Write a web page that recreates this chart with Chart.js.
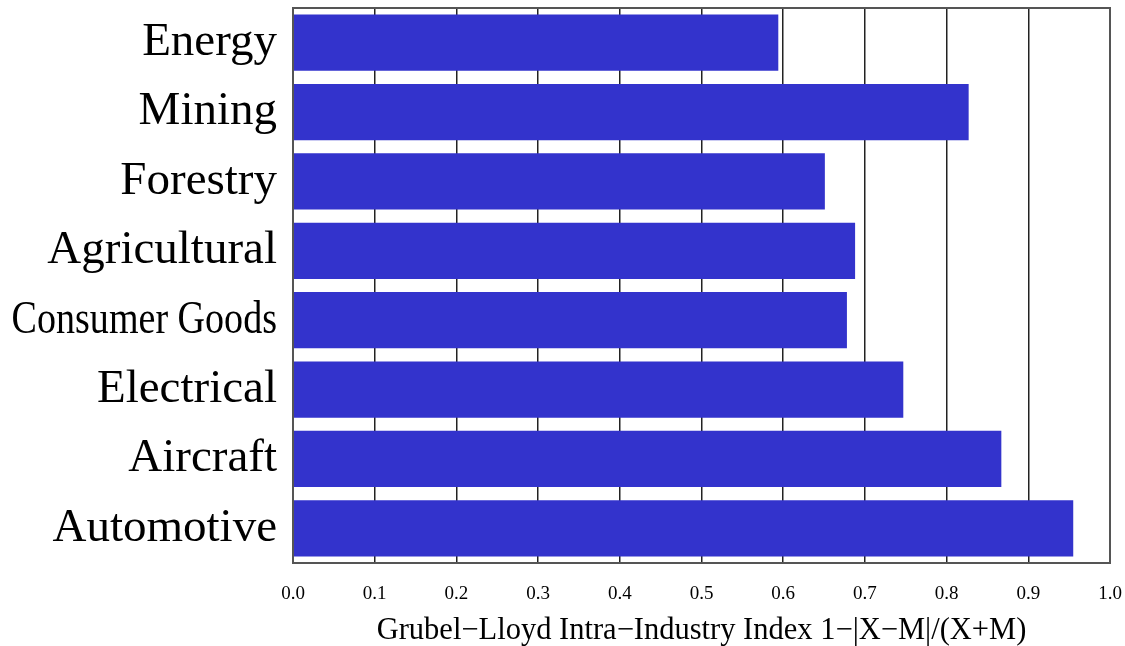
<!DOCTYPE html>
<html>
<head>
<meta charset="utf-8">
<script src="https://cdn.jsdelivr.net/npm/chart.js@4"></script>
<style>
  body { margin: 0; background: #fff; }
  #wrap { width: 1125px; height: 646px; }
</style>
</head>
<body>
<div id="wrap"><canvas id="glChart" width="1125" height="646"></canvas></div>
<script>
// sectors, top to bottom
var sectors = ['Energy', 'Mining', 'Forestry', 'Agricultural', 'Consumer Goods', 'Electrical', 'Aircraft', 'Automotive'];
// Grubel-Lloyd index per sector
var glIndex = [0.594, 0.827, 0.651, 0.688, 0.678, 0.747, 0.867, 0.955];
var xTicks = [0, 0.1, 0.2, 0.3, 0.4, 0.5, 0.6, 0.7, 0.8, 0.9, 1.0];

var serif = '"Liberation Serif", "Times New Roman", serif';
var narrowLabel = 4;   // 'Consumer Goods' is set condensed in the original

// full box round the plot + the condensed label
var frame = {
    id: 'frame',
    afterDraw: function (chart) {
        var a = chart.chartArea, c = chart.ctx;
        c.save();
        c.strokeStyle = '#555';
        c.lineWidth = 2;
        c.strokeRect(a.left, a.top, a.right - a.left, a.bottom - a.top);

        var y = chart.scales.y;
        var py = y.getPixelForValue(narrowLabel);
        c.font = '47px ' + serif;
        c.fillStyle = '#000';
        c.textAlign = 'right';
        c.textBaseline = 'middle';
        c.translate(y.right - 16, py);
        c.scale(0.81, 1);
        c.fillText(sectors[narrowLabel], 0, 0);
        c.restore();
    }
};

var ctx = document.getElementById('glChart').getContext('2d');
var glChart = new Chart(ctx, {
    type: 'bar',
    data: {
        labels: sectors,
        datasets: [{
            data: glIndex,
            backgroundColor: '#3333CC',
            borderWidth: 0,
            barPercentage: 0.81,
            categoryPercentage: 1.0
        }]
    },
    options: {
        indexAxis: 'y',
        responsive: false,
        animation: false,
        layout: { padding: { top: 8, right: 15, left: 0, bottom: 0 } },
        plugins: { legend: { display: false }, tooltip: { enabled: false } },
        scales: {
            x: {
                min: 0,
                max: 1,
                afterBuildTicks: function (scale) {
                    scale.ticks = xTicks.map(function (v) { return { value: v }; });
                },
                afterFit: function (scale) {
                    scale.height = 83;
                    scale.paddingLeft = 0;
                    scale.paddingRight = 0;
                },
                grid: { color: '#222', lineWidth: 1.5, drawTicks: false },
                border: { display: false },
                ticks: {
                    padding: 20,
                    color: '#000',
                    font: { family: serif, size: 19 },
                    callback: function (v) { return Number(v).toFixed(1); }
                },
                title: {
                    display: true,
                    text: 'Grubel\u2212Lloyd Intra\u2212Industry Index 1\u2212|X\u2212M|/(X+M)',
                    color: '#000',
                    font: { family: serif, size: 30.5, lineHeight: 1 },
                    padding: { top: 0, bottom: 0 }
                }
            },
            y: {
                afterFit: function (scale) {
                    scale.width = 293;
                    scale.paddingTop = 0;
                    scale.paddingBottom = 0;
                },
                grid: { display: false, drawTicks: false },
                border: { display: false },
                ticks: {
                    padding: 16,
                    font: { family: serif, size: 47 },
                    color: function (c) {
                        return c.index === narrowLabel ? 'rgba(0,0,0,0)' : '#000';
                    }
                }
            }
        }
    },
    plugins: [frame]
});
</script>
</body>
</html>
